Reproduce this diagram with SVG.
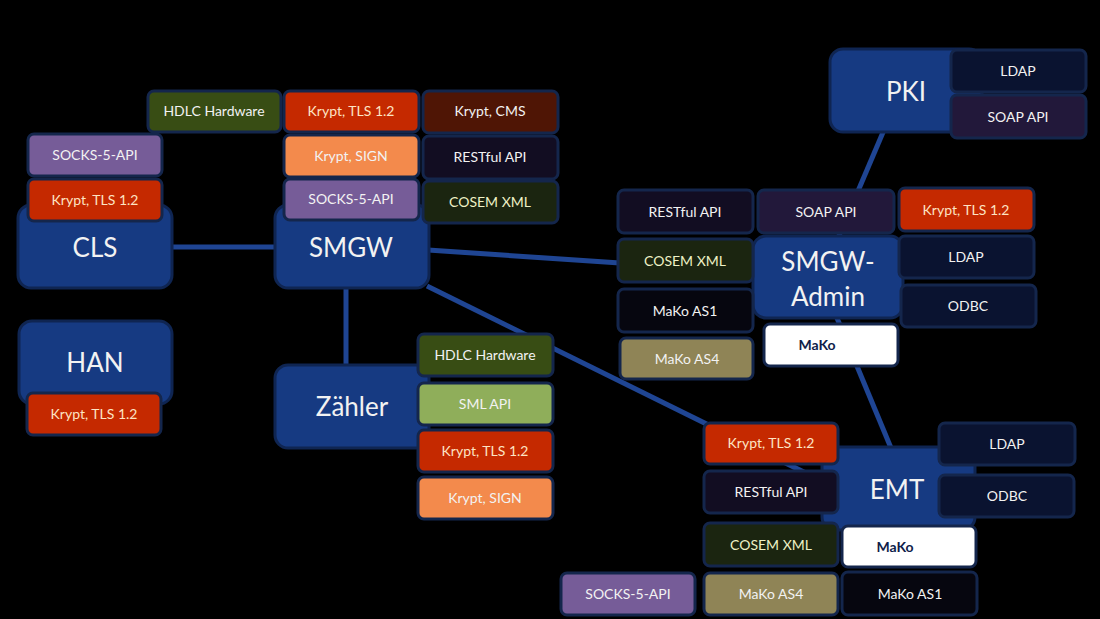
<svg xmlns="http://www.w3.org/2000/svg" width="1100" height="619" viewBox="0 0 1100 619">
<style>
text{font-family:Lato,"Open Sans","Liberation Sans",sans-serif;text-anchor:middle;fill:#f2f2f2}
.node rect{fill:#163a82;stroke:#0f2552;stroke-width:3}
.node text.big{font-size:26px}
.sub rect{stroke:#14264c;stroke-width:3}
.sub text{font-size:14px}
.conn line{stroke:#1f4593;stroke-width:5}
.red rect{fill:#c52900}.red text{fill:#fde4c4}
.orange rect{fill:#f38a4c}
.purple rect{fill:#765c98}
.olive rect{fill:#384d14}
.maroon rect{fill:#4f1505}
.rest rect{fill:#120d22}
.cosem rect{fill:#1b2510}.cosem text{fill:#eef2c6}
.soap rect{fill:#22183a}
.ldap rect{fill:#0a1330}
.as1 rect{fill:#06060f}
.as4 rect{fill:#8f8456}
.sml rect{fill:#8fae5a}
.mako rect{fill:#ffffff}.mako text{fill:#0f1d4a;font-weight:bold}
</style>
<rect width="1100" height="619" fill="#000"/>
<g id="connectors" class="conn">
<line x1="172" y1="247" x2="276" y2="247"/>
<line x1="346" y1="288" x2="346" y2="366"/>
<line x1="428" y1="250" x2="620" y2="263"/>
<line x1="427" y1="286" x2="824" y2="482"/>
<line x1="884" y1="130" x2="838" y2="238"/>
<line x1="837" y1="318" x2="891" y2="448"/>
</g>
<g id="CLS">
<g class="node"><rect x="18" y="205" width="154" height="83" rx="13"/><text class="big" x="95" y="257">CLS</text></g>
<g class="sub purple"><rect x="28" y="134" width="134" height="42" rx="6"/><text x="95" y="160">SOCKS-5-API</text></g>
<g class="sub red"><rect x="28" y="179" width="134" height="42" rx="6"/><text x="95" y="205">Krypt, TLS 1.2</text></g>
</g>
<g id="SMGW">
<g class="node"><rect x="275" y="205" width="154" height="83" rx="13"/><text class="big" x="351" y="257">SMGW</text></g>
<g class="sub olive"><rect x="148" y="91" width="133" height="41" rx="6"/><text x="214" y="116">HDLC Hardware</text></g>
<g class="sub red"><rect x="284" y="91" width="135" height="41" rx="6"/><text x="351" y="116">Krypt, TLS 1.2</text></g>
<g class="sub maroon"><rect x="423" y="91" width="135" height="42" rx="6"/><text x="490" y="116">Krypt, CMS</text></g>
<g class="sub orange"><rect x="284" y="135" width="135" height="42" rx="6"/><text x="351" y="161">Krypt, SIGN</text></g>
<g class="sub rest"><rect x="423" y="136" width="135" height="43" rx="6"/><text x="490" y="162">RESTful API</text></g>
<g class="sub purple"><rect x="284" y="179" width="135" height="41" rx="6"/><text x="351" y="204">SOCKS-5-API</text></g>
<g class="sub cosem"><rect x="423" y="181" width="135" height="42" rx="6"/><text x="490" y="207">COSEM XML</text></g>
</g>
<g id="HAN">
<g class="node"><rect x="19" y="321" width="153" height="83" rx="13"/><text class="big" x="95" y="372">HAN</text></g>
<g class="sub red"><rect x="27" y="393" width="134" height="42" rx="6"/><text x="94" y="419">Krypt, TLS 1.2</text></g>
</g>
<g id="Zaehler">
<g class="node"><rect x="275" y="365" width="154" height="83" rx="13"/><text class="big" x="352" y="416">Zähler</text></g>
<g class="sub olive"><rect x="418" y="334" width="135" height="42" rx="6"/><text x="485" y="360">HDLC Hardware</text></g>
<g class="sub sml"><rect x="418" y="383" width="135" height="42" rx="6"/><text x="485" y="409">SML API</text></g>
<g class="sub red"><rect x="418" y="430" width="135" height="42" rx="6"/><text x="485" y="456">Krypt, TLS 1.2</text></g>
<g class="sub orange"><rect x="418" y="477" width="135" height="42" rx="6"/><text x="485" y="503">Krypt, SIGN</text></g>
</g>
<g id="PKI">
<g class="node"><rect x="830" y="49" width="152" height="83" rx="13"/><text class="big" x="906" y="101">PKI</text></g>
<g class="sub ldap"><rect x="951" y="50" width="135" height="42" rx="6"/><text x="1018" y="76">LDAP</text></g>
<g class="sub soap"><rect x="951" y="95" width="135" height="43" rx="6"/><text x="1018" y="122">SOAP API</text></g>
</g>
<g id="SMGW-Admin">
<g class="node"><rect x="753" y="236" width="150" height="82" rx="13"/><text class="big" x="828" y="271">SMGW-</text><text class="big" x="828" y="306">Admin</text></g>
<g class="sub rest"><rect x="618" y="190" width="135" height="43" rx="6"/><text x="685" y="217">RESTful API</text></g>
<g class="sub soap"><rect x="758" y="190" width="136" height="43" rx="6"/><text x="826" y="217">SOAP API</text></g>
<g class="sub red"><rect x="899" y="188" width="135" height="43" rx="6"/><text x="966" y="215">Krypt, TLS 1.2</text></g>
<g class="sub cosem"><rect x="618" y="239" width="135" height="43" rx="6"/><text x="685" y="266">COSEM XML</text></g>
<g class="sub ldap"><rect x="899" y="236" width="135" height="42" rx="6"/><text x="966" y="262">LDAP</text></g>
<g class="sub ldap"><rect x="901" y="285" width="135" height="42" rx="6"/><text x="968" y="311">ODBC</text></g>
<g class="sub as1"><rect x="618" y="289" width="135" height="43" rx="6"/><text x="685" y="316">MaKo AS1</text></g>
<g class="sub mako"><rect x="764" y="324" width="134" height="42" rx="6"/><text x="817" y="350">MaKo</text></g>
<g class="sub as4"><rect x="620" y="338" width="133" height="41" rx="6"/><text x="687" y="364">MaKo AS4</text></g>
</g>
<g id="EMT">
<g class="node"><rect x="822" y="447" width="153" height="83" rx="13"/><text class="big" x="897" y="499">EMT</text></g>
<g class="sub red"><rect x="704" y="423" width="134" height="41" rx="6"/><text x="771" y="448">Krypt, TLS 1.2</text></g>
<g class="sub rest"><rect x="704" y="471" width="134" height="42" rx="6"/><text x="771" y="497">RESTful API</text></g>
<g class="sub cosem"><rect x="704" y="523" width="134" height="43" rx="6"/><text x="771" y="550">COSEM XML</text></g>
<g class="sub as4"><rect x="704" y="573" width="134" height="42" rx="6"/><text x="771" y="599">MaKo AS4</text></g>
<g class="sub purple"><rect x="561" y="573" width="134" height="42" rx="6"/><text x="628" y="599">SOCKS-5-API</text></g>
<g class="sub ldap"><rect x="939" y="423" width="136" height="42" rx="6"/><text x="1007" y="449">LDAP</text></g>
<g class="sub ldap"><rect x="939" y="475" width="135" height="42" rx="6"/><text x="1007" y="501">ODBC</text></g>
<g class="sub mako"><rect x="842" y="526" width="134" height="41" rx="6"/><text x="895" y="552">MaKo</text></g>
<g class="sub as1"><rect x="842" y="572" width="135" height="43" rx="6"/><text x="910" y="599">MaKo AS1</text></g>
</g>
</svg>
